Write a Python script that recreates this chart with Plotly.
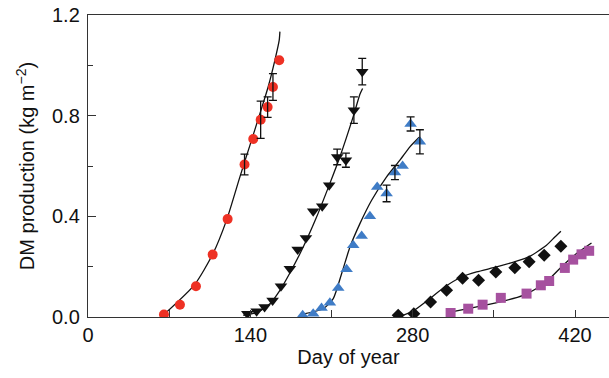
import plotly.graph_objects as go

# ---- observed data (day of year, DM kg m-2) ----
red_day = [65.5, 79.3, 93.1, 107.5, 120.4, 135.0, 142.5, 148.9, 154.9, 159.5, 164.9]
red_dm = [0.010, 0.049, 0.122, 0.248, 0.389, 0.606, 0.707, 0.784, 0.834, 0.914, 1.020]
red_err_day = [135.0, 148.9, 154.9, 159.5]
red_err_dm = [0.606, 0.784, 0.834, 0.914]
red_err = [0.041, 0.074, 0.041, 0.053]

blk_day = [137.4, 145.4, 152.3, 159.2, 166.4, 174.1, 180.8, 187.9, 194.2, 202.0, 208.0, 214.9, 222.4, 229.3, 236.5]
blk_dm = [0.013, 0.023, 0.040, 0.066, 0.122, 0.192, 0.268, 0.314, 0.420, 0.440, 0.524, 0.636, 0.623, 0.822, 0.975]
blk_err_day = [214.9, 222.4, 229.3, 236.5]
blk_err_dm = [0.636, 0.623, 0.822, 0.975]
blk_err = [0.031, 0.028, 0.053, 0.053]

blu_day = [185.1, 194.2, 201.4, 208.6, 215.8, 223.0, 228.7, 236.0, 243.1, 249.4, 257.5, 264.7, 271.3, 278.2, 286.2]
blu_dm = [0.007, 0.013, 0.036, 0.057, 0.115, 0.190, 0.285, 0.322, 0.400, 0.517, 0.491, 0.574, 0.600, 0.767, 0.696]
blu_err_day = [257.5, 264.7, 278.2, 286.2]
blu_err_dm = [0.491, 0.574, 0.767, 0.696]
blu_err = [0.033, 0.028, 0.028, 0.048]

dia_day = [267.5, 281.0, 295.4, 309.2, 323.0, 336.8, 351.7, 368.1, 380.4, 393.4, 407.8]
dia_dm = [0.007, 0.013, 0.060, 0.106, 0.154, 0.146, 0.179, 0.196, 0.220, 0.245, 0.281]

sq_day = [312.7, 327.9, 340.3, 356.0, 378.2, 390.5, 397.7, 411.2, 418.4, 425.6, 432.2]
sq_dm = [0.016, 0.033, 0.049, 0.076, 0.093, 0.126, 0.143, 0.195, 0.228, 0.249, 0.263]

# ---- model curves ----
red_fit_day = [65.5, 92.2, 107.5, 119.5, 131.0, 139.7, 148.3, 155.4, 161.2, 164.9, 165.5]
red_fit_dm = [0.010, 0.130, 0.249, 0.385, 0.557, 0.683, 0.809, 0.915, 1.021, 1.100, 1.134]

blk_fit_day = [133.9, 145.4, 156.9, 165.5, 174.1, 185.6, 197.2, 208.6, 217.2, 228.7, 234.5, 236.8]
blk_fit_dm = [0.007, 0.017, 0.053, 0.106, 0.175, 0.278, 0.398, 0.531, 0.636, 0.796, 0.885, 0.908]

blu_fit_day = [185.1, 202.9, 211.5, 218.7, 225.9, 234.5, 244.6, 257.5, 269.0, 277.6, 285.6]
blu_fit_dm = [0.011, 0.033, 0.073, 0.172, 0.278, 0.371, 0.464, 0.557, 0.623, 0.676, 0.714]

dia_fit_day = [267.5, 280.4, 294.8, 307.8, 322.2, 335.1, 352.3, 369.6, 381.0, 395.4, 402.6, 407.8]
dia_fit_dm = [0.000, 0.024, 0.073, 0.120, 0.159, 0.179, 0.199, 0.222, 0.241, 0.285, 0.318, 0.341]

sq_fit_day = [313.5, 332.2, 355.2, 375.3, 386.8, 398.3, 409.8, 421.3, 434.2]
sq_fit_dm = [0.020, 0.037, 0.060, 0.086, 0.113, 0.153, 0.206, 0.252, 0.294]

x_ticks = [0, 140, 280, 420]
y_ticks = [0.0, 0.4, 0.8, 1.2]

RED = "#ee3124"
BLUE = "#3f7cc6"
PURPLE = "#a6519f"
BLACK = "#111111"

fig = go.Figure()

line_style = dict(color="#111111", width=1.3, shape="spline", smoothing=0.6)
for xd, yd in [(red_fit_day, red_fit_dm), (blk_fit_day, blk_fit_dm), (blu_fit_day, blu_fit_dm),
               (dia_fit_day, dia_fit_dm), (sq_fit_day, sq_fit_dm)]:
    fig.add_trace(go.Scatter(x=xd, y=yd, mode="lines", line=line_style, hoverinfo="skip"))

def err_trace(xd, yd, e):
    return go.Scatter(x=xd, y=yd, mode="markers", marker=dict(size=1, opacity=0),
                      error_y=dict(type="data", array=e, visible=True, color="#111111",
                                   thickness=1.3, width=4), hoverinfo="skip")

def pts(xd, yd, sym, col, size):
    return go.Scatter(x=xd, y=yd, mode="markers",
                      marker=dict(symbol=sym, color=col, size=size, line=dict(width=0)))

fig.add_trace(pts(red_day, red_dm, "circle", RED, 10))
fig.add_trace(pts(blk_day, blk_dm, "triangle-down", BLACK, 11))
fig.add_trace(pts(blu_day, blu_dm, "triangle-up", BLUE, 11))
fig.add_trace(pts(dia_day, dia_dm, "diamond", BLACK, 10))
fig.add_trace(pts(sq_day, sq_dm, "square", PURPLE, 10))

fig.add_trace(err_trace(red_err_day, red_err_dm, red_err))
fig.add_trace(err_trace(blk_err_day, blk_err_dm, blk_err))
fig.add_trace(err_trace(blu_err_day, blu_err_dm, blu_err))

axis_font = dict(family="Liberation Sans, Arial, sans-serif", size=20, color="#111111")

fig.update_layout(
    width=609, height=378,
    margin=dict(l=88, r=0, t=15, b=61),
    paper_bgcolor="white", plot_bgcolor="white",
    showlegend=False,
    font=axis_font,
)
fig.update_xaxes(
    range=[0, 449.3], tickvals=x_ticks, ticktext=[str(v) for v in x_ticks],
    ticks="inside", ticklen=7, tickwidth=1.2, tickcolor="#333333",
    minor=dict(dtick=70, tick0=0, ticks="inside", ticklen=7, tickwidth=1.2, tickcolor="#333333"),
    showline=True, linecolor="#333333", linewidth=1.4, mirror=True,
    showgrid=False, zeroline=False, automargin=False,
    title=dict(text="Day of year", font=axis_font, standoff=4),
    tickfont=axis_font,
)
fig.update_yaxes(
    range=[0, 1.2], tickvals=y_ticks, ticktext=["%.1f" % v for v in y_ticks],
    ticks="inside", ticklen=8, tickwidth=1.2, tickcolor="#333333",
    minor=dict(dtick=0.2, tick0=0, ticks="inside", ticklen=5, tickwidth=1.2, tickcolor="#333333"),
    showline=True, linecolor="#333333", linewidth=1.4,
    showgrid=False, zeroline=False, automargin=False,
    ticklabelstandoff=3,
    title=dict(text="DM production (kg m<sup>\u22122</sup>)", font=axis_font, standoff=11),
    tickfont=axis_font,
)

fig.write_html("out.html", config={"displayModeBar": False},
               post_script="document.body.style.margin='0';document.body.style.overflow='hidden';")
